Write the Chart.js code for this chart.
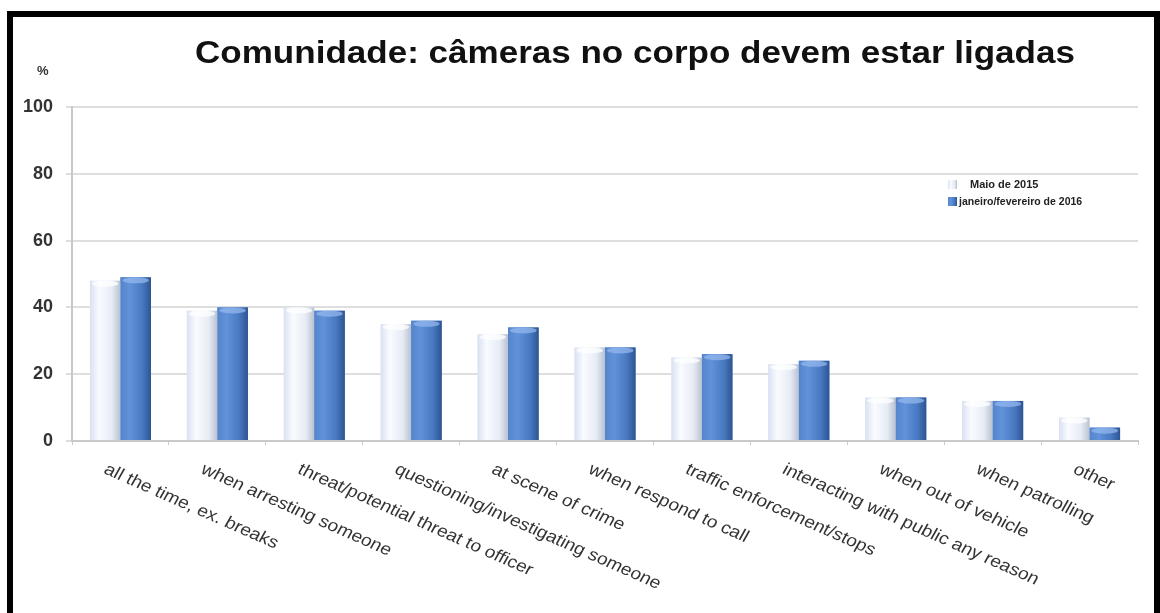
<!DOCTYPE html>
<html>
<head>
<meta charset="utf-8">
<script src="https://cdn.jsdelivr.net/npm/chart.js@4.4.1/dist/chart.umd.min.js"></script>
<style>
  html, body { margin: 0; padding: 0; background: #fff; }
  body { width: 1160px; height: 613px; position: relative; overflow: hidden; font-family: "Liberation Sans", Arial, sans-serif; }
  #frame { position: absolute; left: 7px; top: 11px; width: 1141px; height: 640px; border: 6px solid #000; border-bottom: none; }
  #wrap { position: absolute; left: 0; top: 0; width: 1160px; height: 613px; }
  #title { position: absolute; left: 0; width: 1270px; top: 35px; text-align: center; font-weight: bold; font-size: 31px; color: #111; white-space: nowrap; transform: scaleX(1.13); transform-origin: 635px 0; }
  #unit { position: absolute; left: 37px; top: 63px; font-weight: bold; font-size: 13px; color: #333; }
</style>
</head>
<body>
<div id="frame"></div>
<div id="wrap"><canvas id="chart" width="1160" height="613"></canvas></div>
<div id="title">Comunidade: câmeras no corpo devem estar ligadas</div>
<div id="unit">%</div>
<script>
// Survey answers: when body cameras should be switched on (% of respondents)
const categories = [
  "all the time, ex. breaks",
  "when arresting someone",
  "threat/potential threat to officer",
  "questioning/investigating someone",
  "at scene of crime",
  "when respond to call",
  "traffic enforcement/stops",
  "interacting with public any reason",
  "when out of vehicle",
  "when patrolling",
  "other"
];
const seriesNames = ["Maio de 2015", "janeiro/fevereiro de 2016"];
const may2015    = [48, 39, 40, 35, 32, 28, 25, 23, 13, 12, 7];
const janFeb2016 = [49, 40, 39, 36, 34, 28, 26, 24, 13, 12, 4];
const yTickValues = [0, 20, 40, 60, 80, 100];

// colour stops for the cylinder-like shading of each series
const shading = [
  { stops: ["#d9e1f1", "#f9fbff", "#e6ebf4", "#b9c1d1"], cap: "#ffffff" },
  { stops: ["#5584cb", "#6193da", "#4878c0", "#2d5592"], cap: "#93b7ec" }
];

function shadeGradient(ctx, l, r, s) {
  const g = ctx.createLinearGradient(l, 0, r, 0);
  g.addColorStop(0, s[0]);
  g.addColorStop(0.3, s[1]);
  g.addColorStop(0.72, s[2]);
  g.addColorStop(1, s[3]);
  return g;
}

// paints the shaded body and rounded cap over every bar the library laid out
const barShading = {
  id: "barShading",
  afterDatasetsDraw(chart) {
    const ctx = chart.ctx;
    chart.data.datasets.forEach((ds, di) => {
      const meta = chart.getDatasetMeta(di);
      meta.data.forEach(bar => {
        const l = bar.x - bar.width / 2, r = bar.x + bar.width / 2;
        ctx.save();
        ctx.fillStyle = shadeGradient(ctx, l, r, shading[di].stops);
        ctx.fillRect(l, bar.y, bar.width, bar.base - bar.y);
        ctx.fillStyle = shading[di].cap;
        ctx.globalAlpha = 0.75;
        ctx.beginPath();
        ctx.ellipse(bar.x, bar.y + 3, bar.width / 2 - 2, 3, 0, 0, Math.PI * 2);
        ctx.fill();
        ctx.restore();
      });
    });
  }
};

// category names run down and to the right from each tick, slightly widened
const slantedLabels = {
  id: "slantedLabels",
  afterDraw(chart) {
    const ctx = chart.ctx;
    const xs = chart.scales.x;
    ctx.save();
    ctx.font = "17px 'Liberation Sans', Arial, sans-serif";
    ctx.fillStyle = "#333";
    ctx.textBaseline = "top";
    ctx.textAlign = "left";
    chart.data.labels.forEach((lab, i) => {
      const x = xs.getPixelForTick(i);
      ctx.save();
      ctx.translate(x - 11, chart.chartArea.bottom + 20);
      ctx.scale(1.13, 1);
      ctx.rotate(26.5 * Math.PI / 180);
      ctx.fillText(lab, 0, 0);
      ctx.restore();
    });
    ctx.restore();
  }
};

const sideLegend = {
  id: "sideLegend",
  afterDraw(chart) {
    const ctx = chart.ctx;
    const a = chart.chartArea;
    const x0 = a.right - 190, y0 = a.top + 77;
    ctx.save();
    ctx.textBaseline = "middle";
    chart.data.datasets.forEach((ds, di) => {
      const y = y0 + di * 17;
      ctx.fillStyle = shadeGradient(ctx, x0, x0 + 9, shading[di].stops);
      ctx.fillRect(x0, y - 4, 9, 9);
      ctx.fillStyle = "#222";
      ctx.font = di === 0 ? "bold 11px 'Liberation Sans', Arial, sans-serif" : "bold 10.5px 'Liberation Sans', Arial, sans-serif";
      ctx.fillText(ds.label, x0 + (di === 0 ? 22 : 11), y + 1);
    });
    ctx.restore();
  }
};

new Chart(document.getElementById("chart"), {
  type: "bar",
  data: {
    labels: categories,
    datasets: [
      { label: seriesNames[0], data: may2015, backgroundColor: "#e6ebf5", borderWidth: 0 },
      { label: seriesNames[1], data: janFeb2016, backgroundColor: "#4a7cc4", borderWidth: 0 }
    ]
  },
  options: {
    responsive: false,
    devicePixelRatio: 1,
    animation: false,
    layout: { padding: { top: 107, left: 12, right: 22, bottom: 168 } },
    plugins: { legend: { display: false }, tooltip: { enabled: false }, title: { display: false } },
    datasets: { bar: { barPercentage: 1, categoryPercentage: 0.63 } },
    scales: {
      x: {
        ticks: { display: false },
        grid: { display: true, offset: true, drawOnChartArea: false, tickLength: 4, color: "#c9c9c9" },
        border: { color: "#c9c9c9", width: 2 },
        afterFit(s) { s.height = 4; }
      },
      y: {
        min: 0, max: 100,
        afterBuildTicks(s) { s.ticks = yTickValues.map(v => ({ value: v })); },
        ticks: { padding: 13, color: "#333", font: { family: "'Liberation Sans', Arial, sans-serif", size: 18, weight: "bold" } },
        grid: { color: "#dedede", lineWidth: 2, tickLength: 6 },
        border: { color: "#c9c9c9", width: 2 },
        afterFit(s) { s.width = 60; }
      }
    }
  },
  plugins: [barShading, slantedLabels, sideLegend]
});
</script>
</body>
</html>
